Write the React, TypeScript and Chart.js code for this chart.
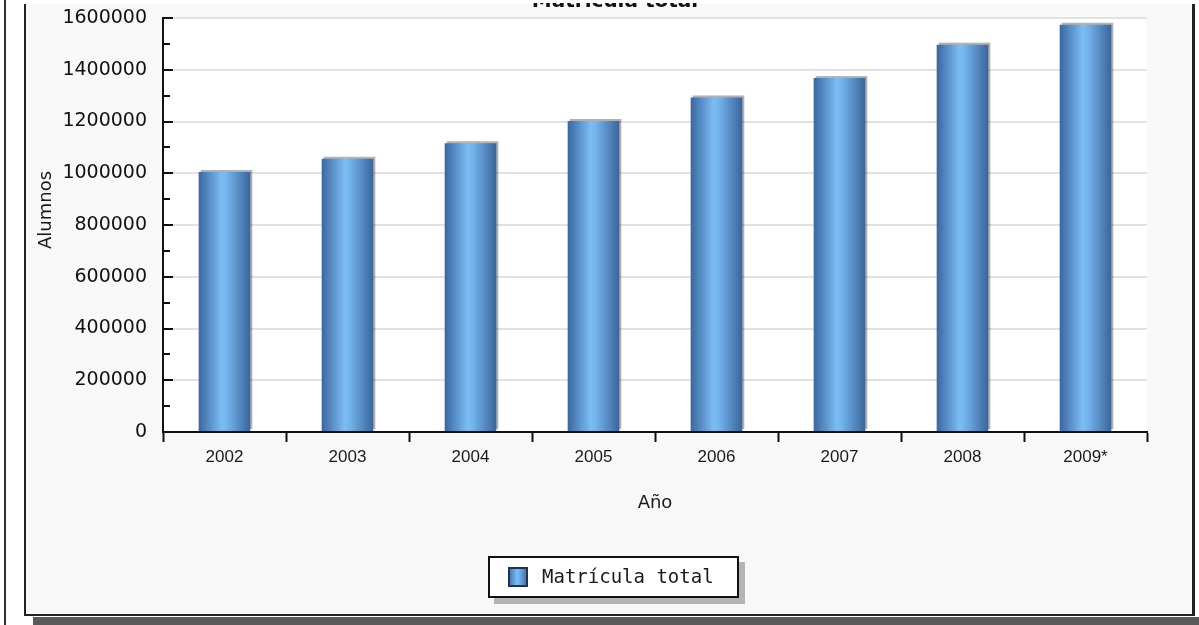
import { useEffect, useRef } from 'react';
import { Chart, registerables } from 'chart.js';

Chart.register(...registerables);

// Enrolment by year
const years = ['2002', '2003', '2004', '2005', '2006', '2007', '2008', '2009*'];
const matricula = [1005000, 1056000, 1116000, 1202000, 1293000, 1368000, 1497000, 1574000];
const seriesLabel = 'Matrícula total';
const chartTitle = 'Matrícula total';
const yTitle = 'Alumnos';
const xTitle = 'Año';
const yMin = 0;
const yMax = 1600000;
const yStep = 200000;
const yMinorStep = 100000;

const W = 1199;
const H = 625;
const BAR_FRACTION = 0.42;

function barGradient(ctx: CanvasRenderingContext2D, left: number, right: number) {
  const g = ctx.createLinearGradient(left, 0, right, 0);
  g.addColorStop(0, '#3a679f');
  g.addColorStop(0.45, '#7cbdf6');
  g.addColorStop(0.55, '#73b2eb');
  g.addColorStop(1, '#3a659b');
  return g;
}

// Page frame, panel, plot background, titles and legend box
const framePlugin = {
  id: 'frame',
  beforeDraw(chart: any) {
    const ctx: CanvasRenderingContext2D = chart.ctx;
    const { left, top, right, bottom } = chart.chartArea;
    ctx.save();
    ctx.fillStyle = '#ffffff';
    ctx.fillRect(0, 0, W, H);
    // outer rule on the left
    ctx.fillStyle = '#333333';
    ctx.fillRect(4, 0, 2, H);
    // panel
    ctx.fillStyle = '#f8f8f8';
    ctx.fillRect(26, 4, 1166, 610);
    // panel shadow
    ctx.fillStyle = '#5a5a5a';
    ctx.fillRect(33, 617, W - 33, H - 617);
    // panel border
    ctx.fillStyle = '#222222';
    ctx.fillRect(24, 4, 2, 612);
    ctx.fillRect(1192, 4, 3, 612);
    ctx.fillRect(24, 614, 1171, 2);
    // plot background
    ctx.fillStyle = '#ffffff';
    ctx.fillRect(left, top, right - left, bottom - top);
    // title, cut at the top edge
    ctx.beginPath();
    ctx.rect(26, 3, 1166, 20);
    ctx.clip();
    ctx.fillStyle = '#111111';
    ctx.font = 'bold 20px "DejaVu Sans", sans-serif';
    ctx.textAlign = 'center';
    ctx.textBaseline = 'alphabetic';
    ctx.fillText(chartTitle, 615, 7);
    ctx.restore();
  },
  beforeDatasetsDraw(chart: any) {
    const ctx: CanvasRenderingContext2D = chart.ctx;
    const meta = chart.getDatasetMeta(0);
    ctx.save();
    ctx.fillStyle = 'rgba(0,0,0,0.3)';
    meta.data.forEach((el: any) => {
      const { x, y, base, width } = el.getProps(['x', 'y', 'base', 'width'], true);
      ctx.fillRect(x - width / 2 + 2, y - 2, width, base - y);
    });
    ctx.restore();
  },
  afterDraw(chart: any) {
    const ctx: CanvasRenderingContext2D = chart.ctx;
    const ys = chart.scales.y;
    const x0 = chart.chartArea.left;
    ctx.save();
    // minor ticks on the value axis
    ctx.strokeStyle = '#111111';
    ctx.lineWidth = 2;
    for (let v = yMin + yMinorStep; v < yMax; v += yStep) {
      const py = Math.round(ys.getPixelForValue(v));
      ctx.beginPath();
      ctx.moveTo(x0 - 1, py);
      ctx.lineTo(x0 + 7, py);
      ctx.stroke();
    }
    // value-axis title
    ctx.save();
    ctx.translate(46, 210);
    ctx.rotate(-Math.PI / 2);
    ctx.fillStyle = '#1a1a1a';
    ctx.font = '18px "DejaVu Sans", sans-serif';
    ctx.textAlign = 'center';
    ctx.textBaseline = 'middle';
    ctx.fillText(yTitle, 0, 0);
    ctx.restore();
    // legend box
    const lx = 488, ly = 556, lw = 251, lh = 42;
    ctx.fillStyle = '#b4b4b4';
    ctx.fillRect(lx + 6, ly + 6, lw, lh);
    ctx.fillStyle = '#ffffff';
    ctx.fillRect(lx, ly, lw, lh);
    ctx.strokeStyle = '#111111';
    ctx.lineWidth = 2;
    ctx.strokeRect(lx + 1, ly + 1, lw - 2, lh - 2);
    const sx = 508, sy = 567, ss = 20;
    ctx.fillStyle = barGradient(ctx, sx, sx + ss);
    ctx.fillRect(sx, sy, ss, ss);
    ctx.strokeStyle = '#1d3552';
    ctx.lineWidth = 2;
    ctx.strokeRect(sx + 1, sy + 1, ss - 2, ss - 2);
    ctx.fillStyle = '#1a1a1a';
    ctx.font = '19px "DejaVu Sans Mono", "Liberation Mono", monospace';
    ctx.textAlign = 'left';
    ctx.textBaseline = 'middle';
    ctx.fillText(chart.data.datasets[0].label, 542, 578);
    ctx.restore();
  },
};

export default function App() {
  const canvasRef = useRef<HTMLCanvasElement | null>(null);

  useEffect(() => {
    const canvas = canvasRef.current;
    if (!canvas) return;
    const chart = new Chart(canvas, {
      type: 'bar',
      data: {
        labels: years,
        datasets: [
          {
            label: seriesLabel,
            data: matricula,
            borderWidth: 0,
            categoryPercentage: 1,
            barPercentage: BAR_FRACTION,
            backgroundColor: (c: any) => {
              const xs = c.chart.scales && c.chart.scales.x;
              if (c.type !== 'data' || !xs || !xs.width) return '#5b95d3';
              const cx = xs.getPixelForValue(c.dataIndex);
              const half = (xs.width / years.length) * BAR_FRACTION / 2;
              return barGradient(c.chart.ctx, cx - half, cx + half);
            },
          },
        ],
      },
      options: {
        responsive: false,
        animation: false,
        events: [],
        layout: { padding: { left: 25, right: 52, top: 18, bottom: 93 } },
        plugins: {
          legend: { display: false },
          tooltip: { enabled: false },
          title: { display: false },
        },
        scales: {
          x: {
            ticks: {
              color: '#1a1a1a',
              font: { family: '"Liberation Sans", "DejaVu Sans", sans-serif', size: 17 },
              padding: 5,
              maxRotation: 0,
              autoSkip: false,
            },
            grid: { drawOnChartArea: false, tickLength: 10, tickColor: '#111111', tickWidth: 2 },
            border: { color: '#111111', width: 2 },
            title: {
              display: true,
              text: xTitle,
              color: '#1a1a1a',
              font: { family: '"DejaVu Sans", sans-serif', size: 18 },
              padding: { top: 0, bottom: 18 },
            },
            afterFit: (s: any) => {
              s.height = 100;
              s.paddingLeft = 0;
              s.paddingRight = 0;
            },
          },
          y: {
            min: yMin,
            max: yMax,
            ticks: {
              stepSize: yStep,
              color: '#111111',
              font: { family: '"DejaVu Sans", sans-serif', size: 19 },
              padding: 26,
              callback: (v: any) => String(v),
            },
            grid: { color: '#e2e2e2', lineWidth: 2, tickLength: -10, tickColor: '#111111', tickWidth: 2 },
            border: { color: '#111111', width: 2 },
            title: { display: false },
            afterFit: (s: any) => {
              s.width = 138;
              s.paddingTop = 0;
              s.paddingBottom = 0;
            },
          },
        },
      },
      plugins: [framePlugin],
    });
    return () => chart.destroy();
  }, []);

  return (
    <div style={{ position: 'fixed', left: 0, top: 0, width: W, height: H, background: '#ffffff' }}>
      <canvas ref={canvasRef} width={W} height={H} style={{ width: W, height: H, display: 'block' }} />
    </div>
  );
}
